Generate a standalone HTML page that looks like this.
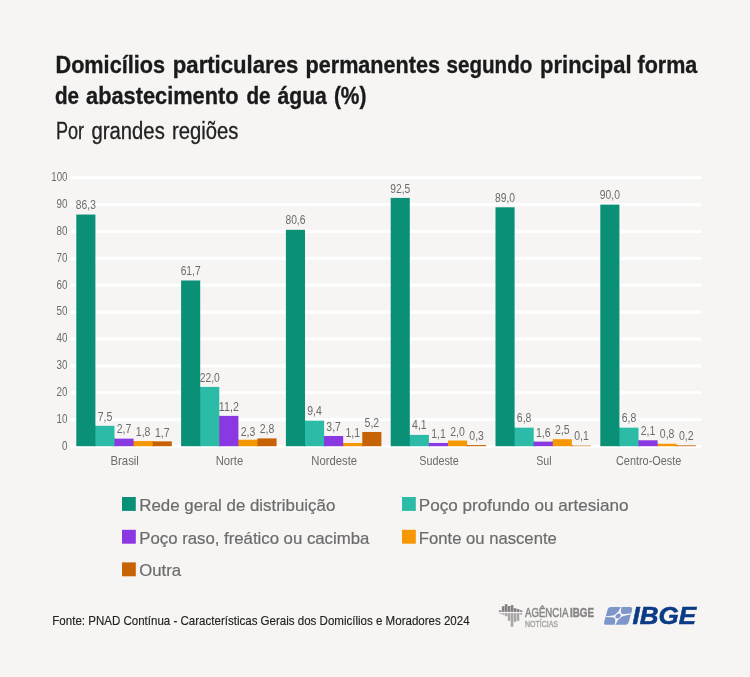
<!DOCTYPE html>
<html lang="pt-BR"><head><meta charset="utf-8"><title>Abastecimento de água</title>
<style>html,body{margin:0;padding:0;background:#f6f5f3;}body{width:750px;height:677px;overflow:hidden;font-family:"Liberation Sans",sans-serif;}svg{display:block;will-change:transform}</style>
</head><body>
<svg width="750" height="677" viewBox="0 0 750 677">
<rect width="750" height="677" fill="#f6f5f3"/>
<g font-family="Liberation Sans, sans-serif" fill="#1a1a1a">
<text x="55.50" y="72.6" font-size="24" font-weight="bold" stroke="#1a1a1a" stroke-width="0.35" textLength="109.49" lengthAdjust="spacingAndGlyphs">Domicílios</text>
<text x="172.80" y="72.6" font-size="24" font-weight="bold" stroke="#1a1a1a" stroke-width="0.35" textLength="125.49" lengthAdjust="spacingAndGlyphs">particulares</text>
<text x="305.50" y="72.6" font-size="24" font-weight="bold" stroke="#1a1a1a" stroke-width="0.35" textLength="134.50" lengthAdjust="spacingAndGlyphs">permanentes</text>
<text x="446.50" y="72.6" font-size="24" font-weight="bold" stroke="#1a1a1a" stroke-width="0.35" textLength="85.88" lengthAdjust="spacingAndGlyphs">segundo</text>
<text x="540.10" y="72.6" font-size="24" font-weight="bold" stroke="#1a1a1a" stroke-width="0.35" textLength="91.50" lengthAdjust="spacingAndGlyphs">principal</text>
<text x="637.50" y="72.6" font-size="24" font-weight="bold" stroke="#1a1a1a" stroke-width="0.35" textLength="59.76" lengthAdjust="spacingAndGlyphs">forma</text>
<text x="54.90" y="104.4" font-size="24" font-weight="bold" stroke="#1a1a1a" stroke-width="0.35" textLength="24.09" lengthAdjust="spacingAndGlyphs">de</text>
<text x="86.10" y="104.4" font-size="24" font-weight="bold" stroke="#1a1a1a" stroke-width="0.35" textLength="152.50" lengthAdjust="spacingAndGlyphs">abastecimento</text>
<text x="246.50" y="104.4" font-size="24" font-weight="bold" stroke="#1a1a1a" stroke-width="0.35" textLength="24.09" lengthAdjust="spacingAndGlyphs">de</text>
<text x="277.50" y="104.4" font-size="24" font-weight="bold" stroke="#1a1a1a" stroke-width="0.35" textLength="49.37" lengthAdjust="spacingAndGlyphs">água</text>
<text x="333.90" y="104.4" font-size="24" font-weight="bold" stroke="#1a1a1a" stroke-width="0.35" textLength="32.60" lengthAdjust="spacingAndGlyphs">(%)</text>
<text x="55.90" y="138.7" font-size="23.5" fill="#222" stroke="#222" stroke-width="0.3" textLength="28.12" lengthAdjust="spacingAndGlyphs">Por</text>
<text x="91.50" y="138.7" font-size="23.5" fill="#222" stroke="#222" stroke-width="0.3" textLength="73.28" lengthAdjust="spacingAndGlyphs">grandes</text>
<text x="172.00" y="138.7" font-size="23.5" fill="#222" stroke="#222" stroke-width="0.3" textLength="66.40" lengthAdjust="spacingAndGlyphs">regiões</text>
</g>
<g stroke="#ffffff" stroke-width="3.2" stroke-linecap="round">
<line x1="72.0" x2="700.0" y1="446.50" y2="446.50"/>
<line x1="72.0" x2="700.0" y1="419.62" y2="419.62"/>
<line x1="72.0" x2="700.0" y1="392.74" y2="392.74"/>
<line x1="72.0" x2="700.0" y1="365.86" y2="365.86"/>
<line x1="72.0" x2="700.0" y1="338.98" y2="338.98"/>
<line x1="72.0" x2="700.0" y1="312.10" y2="312.10"/>
<line x1="72.0" x2="700.0" y1="285.22" y2="285.22"/>
<line x1="72.0" x2="700.0" y1="258.34" y2="258.34"/>
<line x1="72.0" x2="700.0" y1="231.46" y2="231.46"/>
<line x1="72.0" x2="700.0" y1="204.58" y2="204.58"/>
<line x1="72.0" x2="700.0" y1="177.70" y2="177.70"/>
</g>
<g font-family="Liberation Sans, sans-serif" font-size="13.2" fill="#6b6b6b" text-anchor="end">
<text x="67.5" y="449.80" textLength="5.5" lengthAdjust="spacingAndGlyphs">0</text>
<text x="67.5" y="422.92" textLength="10.9" lengthAdjust="spacingAndGlyphs">10</text>
<text x="67.5" y="396.04" textLength="10.9" lengthAdjust="spacingAndGlyphs">20</text>
<text x="67.5" y="369.16" textLength="10.9" lengthAdjust="spacingAndGlyphs">30</text>
<text x="67.5" y="342.28" textLength="10.9" lengthAdjust="spacingAndGlyphs">40</text>
<text x="67.5" y="315.40" textLength="10.9" lengthAdjust="spacingAndGlyphs">50</text>
<text x="67.5" y="288.52" textLength="10.9" lengthAdjust="spacingAndGlyphs">60</text>
<text x="67.5" y="261.64" textLength="10.9" lengthAdjust="spacingAndGlyphs">70</text>
<text x="67.5" y="234.76" textLength="10.9" lengthAdjust="spacingAndGlyphs">80</text>
<text x="67.5" y="207.88" textLength="10.9" lengthAdjust="spacingAndGlyphs">90</text>
<text x="67.5" y="181.00" textLength="16.2" lengthAdjust="spacingAndGlyphs">100</text>
</g>
<rect x="94.40" y="425.79" width="2" height="20.41" fill="#2bbba7"/>
<rect x="113.50" y="438.66" width="2" height="7.54" fill="#8a38e2"/>
<rect x="132.60" y="441.07" width="2" height="5.13" fill="#f59804"/>
<rect x="151.70" y="441.34" width="2" height="4.86" fill="#c76304"/>
<rect x="152.70" y="441.34" width="19.10" height="4.86" fill="#c76304"/>
<rect x="133.60" y="441.07" width="19.10" height="5.13" fill="#f59804"/>
<rect x="114.50" y="438.66" width="19.10" height="7.54" fill="#8a38e2"/>
<rect x="95.40" y="425.79" width="19.10" height="20.41" fill="#2bbba7"/>
<rect x="76.30" y="214.53" width="19.10" height="231.67" fill="#0b9078"/>
<rect x="199.20" y="386.92" width="2" height="59.28" fill="#2bbba7"/>
<rect x="218.30" y="415.87" width="2" height="30.33" fill="#8a38e2"/>
<rect x="237.40" y="439.73" width="2" height="6.47" fill="#f59804"/>
<rect x="256.50" y="439.73" width="2" height="6.47" fill="#c76304"/>
<rect x="257.50" y="438.39" width="19.10" height="7.81" fill="#c76304"/>
<rect x="238.40" y="439.73" width="19.10" height="6.47" fill="#f59804"/>
<rect x="219.30" y="415.87" width="19.10" height="30.33" fill="#8a38e2"/>
<rect x="200.20" y="386.92" width="19.10" height="59.28" fill="#2bbba7"/>
<rect x="181.10" y="280.48" width="19.10" height="165.72" fill="#0b9078"/>
<rect x="304.00" y="420.70" width="2" height="25.50" fill="#2bbba7"/>
<rect x="323.10" y="435.98" width="2" height="10.22" fill="#8a38e2"/>
<rect x="342.20" y="442.95" width="2" height="3.25" fill="#f59804"/>
<rect x="361.30" y="442.95" width="2" height="3.25" fill="#c76304"/>
<rect x="362.30" y="431.96" width="19.10" height="14.24" fill="#c76304"/>
<rect x="343.20" y="442.95" width="19.10" height="3.25" fill="#f59804"/>
<rect x="324.10" y="435.98" width="19.10" height="10.22" fill="#8a38e2"/>
<rect x="305.00" y="420.70" width="19.10" height="25.50" fill="#2bbba7"/>
<rect x="285.90" y="229.81" width="19.10" height="216.39" fill="#0b9078"/>
<rect x="408.80" y="434.91" width="2" height="11.29" fill="#2bbba7"/>
<rect x="427.90" y="442.95" width="2" height="3.25" fill="#8a38e2"/>
<rect x="447.00" y="442.95" width="2" height="3.25" fill="#f59804"/>
<rect x="466.10" y="445.10" width="2" height="1.10" fill="#c76304"/>
<rect x="467.10" y="445.10" width="19.10" height="1.10" fill="#c76304"/>
<rect x="448.00" y="440.54" width="19.10" height="5.66" fill="#f59804"/>
<rect x="428.90" y="442.95" width="19.10" height="3.25" fill="#8a38e2"/>
<rect x="409.80" y="434.91" width="19.10" height="11.29" fill="#2bbba7"/>
<rect x="390.70" y="197.91" width="19.10" height="248.29" fill="#0b9078"/>
<rect x="513.60" y="427.67" width="2" height="18.53" fill="#2bbba7"/>
<rect x="532.70" y="441.61" width="2" height="4.59" fill="#8a38e2"/>
<rect x="551.80" y="441.61" width="2" height="4.59" fill="#f59804"/>
<rect x="570.90" y="445.63" width="2" height="0.57" fill="#c76304"/>
<rect x="571.90" y="445.63" width="19.10" height="0.57" fill="#c76304"/>
<rect x="552.80" y="439.20" width="19.10" height="7.00" fill="#f59804"/>
<rect x="533.70" y="441.61" width="19.10" height="4.59" fill="#8a38e2"/>
<rect x="514.60" y="427.67" width="19.10" height="18.53" fill="#2bbba7"/>
<rect x="495.50" y="207.29" width="19.10" height="238.91" fill="#0b9078"/>
<rect x="618.40" y="427.67" width="2" height="18.53" fill="#2bbba7"/>
<rect x="637.50" y="440.27" width="2" height="5.93" fill="#8a38e2"/>
<rect x="656.60" y="443.76" width="2" height="2.44" fill="#f59804"/>
<rect x="675.70" y="445.36" width="2" height="0.84" fill="#c76304"/>
<rect x="676.70" y="445.36" width="19.10" height="0.84" fill="#c76304"/>
<rect x="657.60" y="443.76" width="19.10" height="2.44" fill="#f59804"/>
<rect x="638.50" y="440.27" width="19.10" height="5.93" fill="#8a38e2"/>
<rect x="619.40" y="427.67" width="19.10" height="18.53" fill="#2bbba7"/>
<rect x="600.30" y="204.61" width="19.10" height="241.59" fill="#0b9078"/>
<g font-family="Liberation Sans, sans-serif" font-size="13.2" fill="#6b6b6b" text-anchor="middle">
<text x="85.85" y="209.23" textLength="20.0" lengthAdjust="spacingAndGlyphs">86,3</text>
<text x="104.95" y="420.89" textLength="14.6" lengthAdjust="spacingAndGlyphs">7,5</text>
<text x="124.05" y="433.36" textLength="14.6" lengthAdjust="spacingAndGlyphs">2,7</text>
<text x="143.15" y="436.27" textLength="14.6" lengthAdjust="spacingAndGlyphs">1,8</text>
<text x="162.25" y="436.94" textLength="14.6" lengthAdjust="spacingAndGlyphs">1,7</text>
<text x="190.65" y="275.18" textLength="20.0" lengthAdjust="spacingAndGlyphs">61,7</text>
<text x="209.75" y="381.62" textLength="20.0" lengthAdjust="spacingAndGlyphs">22,0</text>
<text x="228.85" y="410.57" textLength="20.0" lengthAdjust="spacingAndGlyphs">11,2</text>
<text x="247.95" y="435.63" textLength="14.6" lengthAdjust="spacingAndGlyphs">2,3</text>
<text x="267.05" y="433.09" textLength="14.6" lengthAdjust="spacingAndGlyphs">2,8</text>
<text x="295.45" y="224.01" textLength="20.0" lengthAdjust="spacingAndGlyphs">80,6</text>
<text x="314.55" y="415.40" textLength="14.6" lengthAdjust="spacingAndGlyphs">9,4</text>
<text x="333.65" y="430.68" textLength="14.6" lengthAdjust="spacingAndGlyphs">3,7</text>
<text x="352.75" y="437.15" textLength="14.6" lengthAdjust="spacingAndGlyphs">1,1</text>
<text x="371.85" y="426.66" textLength="14.6" lengthAdjust="spacingAndGlyphs">5,2</text>
<text x="400.25" y="192.61" textLength="20.0" lengthAdjust="spacingAndGlyphs">92,5</text>
<text x="419.35" y="429.21" textLength="14.6" lengthAdjust="spacingAndGlyphs">4,1</text>
<text x="438.45" y="437.65" textLength="14.6" lengthAdjust="spacingAndGlyphs">1,1</text>
<text x="457.55" y="435.64" textLength="14.6" lengthAdjust="spacingAndGlyphs">2,0</text>
<text x="476.65" y="439.80" textLength="14.6" lengthAdjust="spacingAndGlyphs">0,3</text>
<text x="505.05" y="201.99" textLength="20.0" lengthAdjust="spacingAndGlyphs">89,0</text>
<text x="524.15" y="422.37" textLength="14.6" lengthAdjust="spacingAndGlyphs">6,8</text>
<text x="543.25" y="436.71" textLength="14.6" lengthAdjust="spacingAndGlyphs">1,6</text>
<text x="562.35" y="433.90" textLength="14.6" lengthAdjust="spacingAndGlyphs">2,5</text>
<text x="581.45" y="440.33" textLength="14.6" lengthAdjust="spacingAndGlyphs">0,1</text>
<text x="609.85" y="199.31" textLength="20.0" lengthAdjust="spacingAndGlyphs">90,0</text>
<text x="628.95" y="422.37" textLength="14.6" lengthAdjust="spacingAndGlyphs">6,8</text>
<text x="648.05" y="434.97" textLength="14.6" lengthAdjust="spacingAndGlyphs">2,1</text>
<text x="667.15" y="438.46" textLength="14.6" lengthAdjust="spacingAndGlyphs">0,8</text>
<text x="686.25" y="440.06" textLength="14.6" lengthAdjust="spacingAndGlyphs">0,2</text>
</g>
<g font-family="Liberation Sans, sans-serif" font-size="12.4" fill="#6b6b6b" text-anchor="middle">
<text x="124.65" y="465.1" textLength="28.5" lengthAdjust="spacingAndGlyphs">Brasil</text>
<text x="229.45" y="465.1" textLength="27.5" lengthAdjust="spacingAndGlyphs">Norte</text>
<text x="334.25" y="465.1" textLength="45.8" lengthAdjust="spacingAndGlyphs">Nordeste</text>
<text x="439.05" y="465.1" textLength="39.5" lengthAdjust="spacingAndGlyphs">Sudeste</text>
<text x="543.85" y="465.1" textLength="15.3" lengthAdjust="spacingAndGlyphs">Sul</text>
<text x="648.65" y="465.1" textLength="65.3" lengthAdjust="spacingAndGlyphs">Centro-Oeste</text>
</g>
<g font-family="Liberation Sans, sans-serif" font-size="15.9" fill="#6c6c6c" stroke="#6c6c6c" stroke-width="0.2">
<rect x="122" y="497.0" width="13.8" height="13.9" fill="#0b9078" stroke="none"/>
<text x="139.3" y="510.9" textLength="196" lengthAdjust="spacingAndGlyphs">Rede geral de distribuição</text>
<rect x="402" y="497.0" width="13.8" height="13.9" fill="#2bbba7" stroke="none"/>
<text x="418.8" y="510.9" textLength="209.8" lengthAdjust="spacingAndGlyphs">Poço profundo ou artesiano</text>
<rect x="122" y="529.8" width="13.8" height="13.9" fill="#8a38e2" stroke="none"/>
<text x="139.3" y="543.7" textLength="230" lengthAdjust="spacingAndGlyphs">Poço raso, freático ou cacimba</text>
<rect x="402" y="529.8" width="13.8" height="13.9" fill="#f59804" stroke="none"/>
<text x="418.8" y="543.7" textLength="138" lengthAdjust="spacingAndGlyphs">Fonte ou nascente</text>
<rect x="122" y="562.4" width="13.8" height="13.9" fill="#c76304" stroke="none"/>
<text x="139.3" y="576.3" textLength="41.8" lengthAdjust="spacingAndGlyphs">Outra</text>
</g>
<text x="52.3" y="624.5" font-family="Liberation Sans, sans-serif" font-size="13.5" fill="#222" stroke="#222" stroke-width="0.15" textLength="417.3" lengthAdjust="spacingAndGlyphs">Fonte: PNAD Contínua - Características Gerais dos Domicílios e Moradores 2024</text>
<g>
<rect x="498.85" y="610.4" width="2.65" height="1.50" fill="#838181"/>
<rect x="498.85" y="613.1" width="2.65" height="0.60" fill="#a9a9a9"/>
<rect x="501.82" y="606.2" width="2.65" height="5.70" fill="#838181"/>
<rect x="501.82" y="613.1" width="2.65" height="1.50" fill="#a9a9a9"/>
<rect x="504.79" y="604.2" width="2.65" height="7.70" fill="#838181"/>
<rect x="504.79" y="613.1" width="2.65" height="3.10" fill="#a9a9a9"/>
<rect x="507.76" y="606.0" width="2.65" height="5.90" fill="#838181"/>
<rect x="507.76" y="613.1" width="2.65" height="7.70" fill="#a9a9a9"/>
<rect x="510.73" y="605.1" width="2.65" height="6.80" fill="#838181"/>
<rect x="510.73" y="613.1" width="2.65" height="13.70" fill="#a9a9a9"/>
<rect x="513.70" y="608.2" width="2.65" height="3.70" fill="#838181"/>
<rect x="513.70" y="613.1" width="2.65" height="8.80" fill="#a9a9a9"/>
<rect x="516.67" y="609.1" width="2.65" height="2.80" fill="#838181"/>
<rect x="516.67" y="613.1" width="2.65" height="7.70" fill="#a9a9a9"/>
<rect x="519.64" y="610.3" width="2.65" height="1.60" fill="#838181"/>
<rect x="519.64" y="613.1" width="2.65" height="1.50" fill="#a9a9a9"/>
</g>
<g font-family="Liberation Sans, sans-serif">
<text x="525.10" y="617.0" font-size="13.6" fill="#888888" stroke="#888888" stroke-width="0.55" textLength="43.19" lengthAdjust="spacingAndGlyphs">AGÊNCIA</text>
<text x="570.10" y="617.0" font-size="13.6" font-weight="bold" fill="#868484" stroke="#868484" stroke-width="0.5" textLength="23.90" lengthAdjust="spacingAndGlyphs">IBGE</text>
<text x="525.00" y="626.8" font-size="9.4" fill="#a2a2a2" stroke="#a2a2a2" stroke-width="0.35" textLength="33.00" lengthAdjust="spacingAndGlyphs">NOTÍCIAS</text>
</g>
<g transform="translate(618.1 615.9) skewX(-15.5)">
<rect x="-12.3" y="-8.8" width="24.6" height="17.6" rx="2.8" fill="#7e97cb"/>
<path d="M-12.3,0.3 Q-4,0.1 -2.6,-1.6 Q-0.6,-3.5 0.2,-8.8 L1.1,-8.8 Q1.2,-3.2 3,-2.1 Q5,-1.6 12.3,-2.3 L12.3,-1.4 Q4,0.2 2.6,1.6 Q0.6,3.5 -0.2,8.8 L-1.1,8.8 Q-1.2,3.2 -3,2 Q-5,1.2 -12.3,1.2 Z" fill="#f6f5f3"/>
<circle r="3.4" fill="#f6f5f3"/>
<circle r="2.5" fill="#7e97cb"/>
</g>
<text x="632.5" y="624.3" font-family="Liberation Sans, sans-serif" font-size="24.6" font-weight="bold" font-style="italic" fill="#0b3b86" stroke="#0b3b86" stroke-width="0.6" textLength="63.5" lengthAdjust="spacingAndGlyphs">IBGE</text>
</svg>
</body></html>
